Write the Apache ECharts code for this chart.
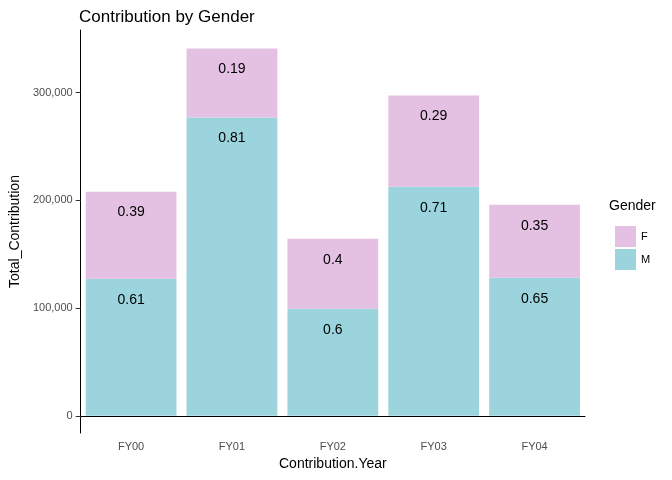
<!DOCTYPE html>
<html><head><meta charset="utf-8">
<script src="https://cdn.jsdelivr.net/npm/echarts@6/dist/echarts.min.js"></script>
<style>html,body{margin:0;background:#fff}#c{width:672px;height:480px}</style>
</head><body><div id="c"></div>
<script>
const years = ['FY00', 'FY01', 'FY02', 'FY03', 'FY04'];
const maleValues = [127200, 276700, 99400, 212600, 128100];
const femaleValues = [80800, 64100, 64900, 84500, 67800];
const maleShare = ['0.61', '0.81', '0.6', '0.71', '0.65'];
const femaleShare = ['0.39', '0.19', '0.4', '0.29', '0.35'];
const yTicks = [0, 100000, 200000, 300000];

const chart = echarts.init(document.getElementById('c'), null, { renderer: 'canvas' });
const lbl = arr => ({
  show: true, position: 'insideTop', distance: 14,
  color: '#000', fontSize: 14, fontFamily: 'Arial',
  formatter: p => arr[p.dataIndex]
});
chart.setOption({
  animation: false,
  textStyle: { fontFamily: 'Arial' },
  title: { text: 'Contribution by Gender', left: 74, top: 4,
    textStyle: { fontSize: 17, fontWeight: 'normal', color: '#000' } },
  grid: { left: 73, right: 87, top: 30, bottom: 47 },
  legend: { orient: 'vertical', left: 610, top: 221, itemWidth: 21, itemHeight: 21, itemGap: 2,
    icon: 'rect', data: ['F', 'M'], textStyle: { fontSize: 11, color: '#000' } },
  graphic: [{ type: 'text', left: 609, top: 199, style: { text: 'Gender', fontSize: 14, fill: '#000', fontFamily: 'Arial' } }],
  xAxis: { type: 'category', data: years, name: 'Contribution.Year', nameLocation: 'middle', nameGap: 24,
    nameTextStyle: { fontSize: 14, color: '#000' },
    axisLine: { lineStyle: { color: '#000' } }, axisTick: { alignWithLabel: true, lineStyle: { color: '#333' } },
    axisLabel: { color: '#4d4d4d', fontSize: 11 } },
  yAxis: { type: 'value', min: -16000, max: 358000, name: 'Total_Contribution', nameLocation: 'middle', nameGap: 55,
    nameTextStyle: { fontSize: 14, color: '#000' },
    splitLine: { show: false },
    axisLine: { show: true, lineStyle: { color: '#000' } },
    axisTick: { show: true, customValues: yTicks, lineStyle: { color: '#333' } },
    axisLabel: { customValues: yTicks, color: '#4d4d4d', fontSize: 11 } },
  series: [
    { name: 'M', type: 'bar', stack: 't', data: maleValues, barCategoryGap: '10%',
      itemStyle: { color: '#9BD4DD' }, label: lbl(maleShare) },
    { name: 'F', type: 'bar', stack: 't', data: femaleValues,
      itemStyle: { color: '#E4C1E3' }, label: lbl(femaleShare) }
  ]
});
</script></body></html>
